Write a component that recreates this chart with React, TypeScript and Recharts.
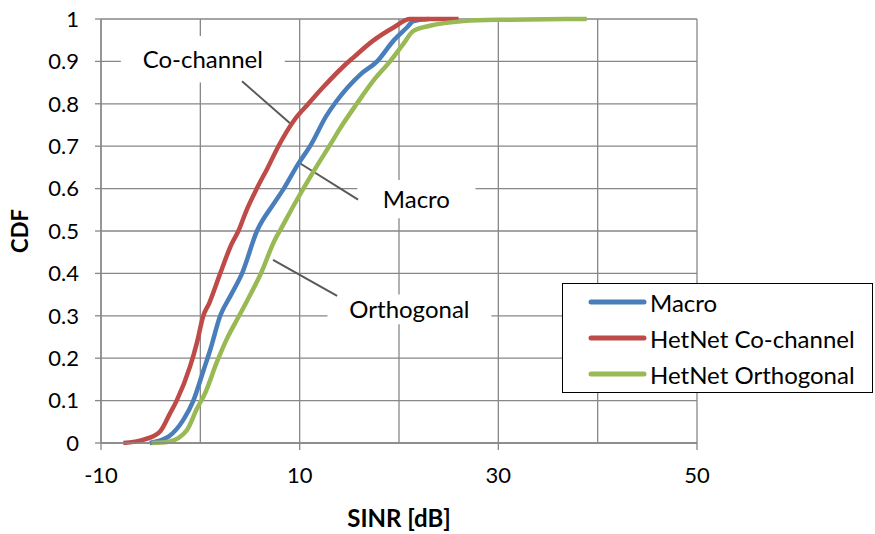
import React from 'react'
import {
  LineChart,
  Line,
  XAxis,
  YAxis,
  CartesianGrid,
  ReferenceLine,
  ReferenceArea,
} from 'recharts'

// SINR (dB) / CDF pairs
const macroSinr = [-5.1, -3.2, -1.7, -0.7, 0.3, 1.0, 2.0, 3.1, 4.2, 5.7, 7.35, 8.4, 9.9, 11.05, 12.7, 13.7, 16.1, 17.8, 19.45, 20.8, 21.45, 23]
const macroCdf = [0, 0.015, 0.055, 0.1, 0.17, 0.22, 0.3, 0.35, 0.4, 0.5, 0.563, 0.6, 0.66, 0.7, 0.772, 0.806, 0.869, 0.9, 0.949, 0.98, 0.995, 1]

const cochSinr = [-7.75, -5.7, -4.06, -3.05, -2.38, -1.04, -0.36, 0.3, 0.9, 2.0, 3.16, 3.83, 4.67, 5.68, 6.8, 7.86, 9.5, 10.88, 12.4, 14.4, 15.4, 17.4, 19.45, 21.1, 26]
const cochCdf = [0, 0.008, 0.027, 0.07, 0.1, 0.18, 0.235, 0.3, 0.33, 0.4, 0.47, 0.5, 0.55, 0.6, 0.65, 0.7, 0.763, 0.8, 0.84, 0.888, 0.909, 0.949, 0.98, 1, 1]

const orthSinr = [-4.9, -3.2, -1.37, -0.36, 0.47, 1.65, 2.66, 3.67, 4.7, 6.1, 7.52, 8.0, 9.54, 10.37, 11.8, 13.06, 14.07, 15.75, 17.4, 19.1, 20.4, 21.45, 23.1, 26.5, 29.85, 38.9]
const orthCdf = [0, 0.003, 0.03, 0.08, 0.117, 0.19, 0.245, 0.29, 0.335, 0.4, 0.48, 0.5, 0.566, 0.6, 0.656, 0.703, 0.742, 0.8, 0.854, 0.9, 0.94, 0.972, 0.984, 0.995, 0.998, 1]

const xTicks = [-10, 10, 30, 50]
const xGrid = [-10, 0, 10, 20, 30, 40, 50]
const yTicks = [0, 0.1, 0.2, 0.3, 0.4, 0.5, 0.6, 0.7, 0.8, 0.9, 1]

const toPoints = (xs: number[], ys: number[]) => xs.map((x, i) => ({ sinr: x, cdf: ys[i] }))

const series = [
  { name: 'Macro', color: '#4A7EBB', data: toPoints(macroSinr, macroCdf) },
  { name: 'HetNet Co-channel', color: '#BE4B48', data: toPoints(cochSinr, cochCdf) },
  { name: 'HetNet Orthogonal', color: '#98B954', data: toPoints(orthSinr, orthCdf) },
]

const FONT = 'Lato, sans-serif'
const GRID = '#878787'
const LEADER = '#595959'

const labelStyle = { fontSize: 24, fill: '#000', fontFamily: FONT }

export default function App() {
  return (
    <div style={{ position: 'absolute', left: 0, top: 0, width: 875, height: 534, background: '#fff', fontFamily: FONT }}>
      <LineChart width={875} height={534} margin={{ top: 19, right: 178, left: 0, bottom: 0 }}>
        <CartesianGrid stroke={GRID} strokeWidth={1.3} verticalValues={xGrid} horizontalValues={yTicks} />
        <XAxis
          type="number"
          dataKey="sinr"
          domain={[-10, 50]}
          ticks={xTicks}
          allowDuplicatedCategory={false}
          height={91}
          stroke={GRID}
          strokeWidth={1.3}
          tickSize={7}
          tickMargin={17}
          tick={{ fontSize: 22, fill: '#000', fontFamily: FONT }}
          label={{ value: 'SINR [dB]', position: 'insideBottom', offset: 7, style: { fontSize: 24, fontWeight: 700, fill: '#000', fontFamily: FONT } }}
        />
        <YAxis
          type="number"
          domain={[0, 1]}
          ticks={yTicks}
          width={101}
          stroke={GRID}
          strokeWidth={1.3}
          tickSize={6}
          tickMargin={16}
          tick={{ fontSize: 22, fill: '#000', fontFamily: FONT }}
          label={({ viewBox }: any) => (
            <text
              x={19}
              y={viewBox.y + viewBox.height / 2}
              transform={`rotate(-90 19 ${viewBox.y + viewBox.height / 2})`}
              textAnchor="middle"
              dominantBaseline="central"
              style={{ fontSize: 22, fontWeight: 700, fontFamily: FONT }}
            >
              CDF
            </text>
          )}
        />
        <ReferenceArea x1={-8} x2={8.5} y1={0.85} y2={0.96} fill="#fff" fillOpacity={1} stroke="none" label={{ value: 'Co-channel', position: 'center', style: labelStyle }} />
        <ReferenceArea x1={15.8} x2={27.7} y1={0.53} y2={0.62} fill="#fff" fillOpacity={1} stroke="none" label={{ value: 'Macro', position: 'center', style: labelStyle }} />
        <ReferenceArea x1={12.8} x2={29.3} y1={0.28} y2={0.35} fill="#fff" fillOpacity={1} stroke="none" label={{ value: 'Orthogonal', position: 'center', style: labelStyle }} />
        <ReferenceLine segment={[{ x: 4.2, y: 0.853 }, { x: 9.03, y: 0.754 }]} stroke={LEADER} strokeWidth={2} />
        <ReferenceLine segment={[{ x: 9.94, y: 0.661 }, { x: 15.88, y: 0.574 }]} stroke={LEADER} strokeWidth={2} />
        <ReferenceLine segment={[{ x: 7.32, y: 0.432 }, { x: 13.77, y: 0.347 }]} stroke={LEADER} strokeWidth={2} />
        {series.map((s) => (
          <Line
            key={s.name}
            data={s.data}
            dataKey="cdf"
            name={s.name}
            type="monotoneX"
            stroke={s.color}
            strokeWidth={4.5}
            dot={false}
            isAnimationActive={false}
          />
        ))}
      </LineChart>
      <div
        style={{
          position: 'absolute',
          left: 562,
          top: 283,
          width: 311,
          height: 110,
          border: '1.5px solid #000',
          background: '#fff',
          boxSizing: 'border-box',
        }}
      >
        {series.map((s, i) => (
          <div key={s.name} style={{ position: 'absolute', left: 25, top: 2 + i * 36, height: 32, display: 'flex', alignItems: 'center' }}>
            <svg width={59} height={8} style={{ marginRight: 3 }}>
              <line x1={3} y1={4} x2={56} y2={4} stroke={s.color} strokeWidth={5} strokeLinecap="round" />
            </svg>
            <span style={{ fontSize: 24, color: '#000', whiteSpace: 'nowrap' }}>{s.name}</span>
          </div>
        ))}
      </div>
    </div>
  )
}
